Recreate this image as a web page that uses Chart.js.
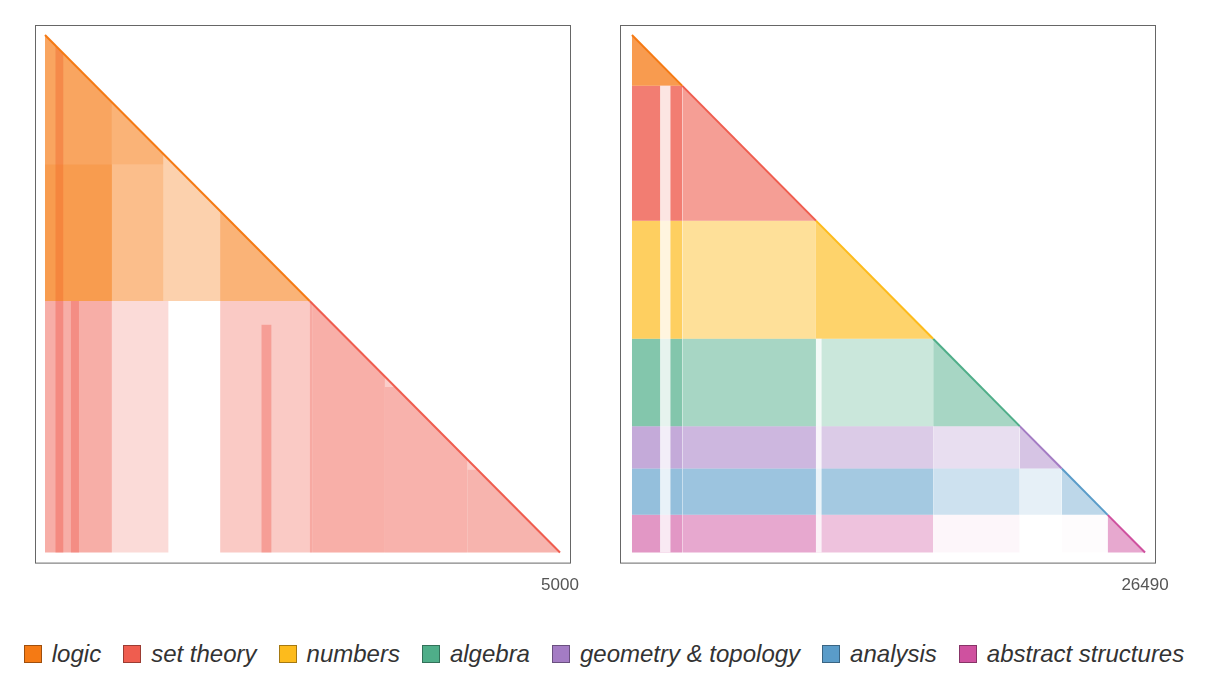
<!DOCTYPE html>
<html>
<head>
<meta charset="utf-8">
<script src="https://cdn.jsdelivr.net/npm/chart.js@4"></script>
<style>
body { margin: 0; width: 1208px; height: 680px; background: #fff; position: relative; overflow: hidden; }
.box { position: absolute; top: 0; width: 600px; height: 600px; }
#legend { position: absolute; top: 640px; left: 0; width: 1208px; text-align: center; white-space: nowrap;
  font: italic 24px "Liberation Sans", Arial, sans-serif; color: #333; }
#legend span.sw { display: inline-block; width: 16px; height: 16px; border: 1px solid rgba(0,0,0,.35); margin: 0 10px 0 22px; vertical-align: -1px; }
#legend span.sw:first-child { margin-left: 0; }
</style>
</head>
<body>
<div class="box" style="left:0"><canvas id="c1"></canvas></div>
<div class="box" style="left:585px"><canvas id="c2"></canvas></div>
<div id="legend"></div>
<script>
const COLORS = {
    logic: '#f57a14', set: '#ef5d4f', numbers: '#fdbb1c', algebra: '#4fae89',
    geometry: '#a47cc4', analysis: '#5a9cc9', abstract: '#cf519f'
};
const LABELS = [['logic','logic'],['set','set theory'],['numbers','numbers'],['algebra','algebra'],
    ['geometry','geometry & topology'],['analysis','analysis'],['abstract','abstract structures']];

// left panel: [x0, x1, y0, y1, category, alpha]
const LEFT_N = 5000;
const LEFT_BLOCKS = [
    [0, 650, 0, 2570, 'logic', 0.5],
    [650, 1150, 350, 1250, 'logic', 0.35],
    [0, 1150, 1250, 2570, 'logic', 0.22],
    [1700, 2600, 1650, 2570, 'logic', 0.35],
    [0, 650, 2570, 5000, 'set', 0.5],
    [650, 1200, 2570, 5000, 'set', 0.22],
    [1700, 2600, 2570, 5000, 'set', 0.33],
    [2600, 3300, 2570, 5000, 'set', 0.28],
    [3300, 4100, 3400, 5000, 'set', 0.25],
    [4100, 5000, 4200, 5000, 'set', 0.22],
    [100, 180, 0, 5000, 'set', 0.45],
    [250, 330, 2570, 5000, 'set', 0.4],
    [2100, 2200, 2800, 5000, 'set', 0.4]
];
const LEFT_DIAG = [[0, 2570, 'logic', 0.35], [2570, 5000, 'set', 0.3]];

// right panel categories split along both axes
const RIGHT_N = 26490;
const BOUNDS = [0, 2600, 9500, 15550, 20020, 22190, 24560, 26490];
const CATS = ['logic','set','numbers','algebra','geometry','analysis','abstract'];
// density[row][col], last = diagonal block
const DENSITY = [
    [0.75],
    [0.8, 0.6],
    [0.7, 0.45, 0.65],
    [0.7, 0.5, 0.3, 0.5],
    [0.65, 0.55, 0.4, 0.25, 0.45],
    [0.65, 0.6, 0.55, 0.3, 0.15, 0.4],
    [0.6, 0.5, 0.35, 0.05, 0.0, 0.02, 0.5]
];
const RIGHT_GAPS = [[1450, 2000, 2600, 26490], [9500, 9800, 15550, 26490]];

function rgba (hex, a)
{
    let n = parseInt(hex.slice(1), 16);
    return 'rgba(' + (n >> 16) + ',' + ((n >> 8) & 255) + ',' + (n & 255) + ',' + a + ')';
}

function rect (x0, x1, y0, y1, color, order)
{
    return { data: [{x: x0, y: y0}, {x: x1, y: y0}], fill: {value: y1}, backgroundColor: color,
             borderWidth: 0, pointRadius: 0, order: order };
}

function tri (a, b, color, order)
{
    return { data: [{x: a, y: a}, {x: b, y: b}], fill: {value: b}, backgroundColor: color,
             borderWidth: 0, pointRadius: 0, order: order };
}

const frame = {
    id: 'frame',
    afterDraw (chart)
    {
        let a = chart.chartArea, ctx = chart.ctx;
        ctx.save();
        ctx.strokeStyle = '#666';
        ctx.lineWidth = 1;
        ctx.strokeRect(a.left + 0.5, a.top + 0.5, a.width - 1, a.height - 1);
        ctx.restore();
    }
};

function makeChart (id, N, datasets, lead, trail)
{
    let lo = -lead / 515 * N, hi = N + trail / 515 * N;
    let ylo = -10 / 515 * N, yhi = N + 11 / 515 * N;
    // white mask above the diagonal
    datasets.push({ data: [{x: lo, y: lo}, {x: hi, y: hi}], fill: {value: ylo}, backgroundColor: '#fff',
                    borderWidth: 0, pointRadius: 0, order: 1 });
    return new Chart(document.getElementById(id), {
        type: 'line',
        data: { datasets: datasets },
        options: {
            animation: false, responsive: false, devicePixelRatio: 1,
            layout: { padding: { left: 35, top: 25, right: 29, bottom: 0 } },
            plugins: { legend: { display: false }, tooltip: { enabled: false } },
            scales: {
                x: { type: 'linear', min: lo, max: hi, grid: { display: false }, border: { display: false },
                     afterBuildTicks: ax => { ax.ticks = [{value: N}]; },
                     ticks: { color: '#555', font: { size: 17, family: 'Liberation Sans' }, padding: 4,
                              maxRotation: 0, callback: v => String(v) } },
                y: { type: 'linear', reverse: true, min: ylo, max: yhi, display: false }
            }
        },
        plugins: [frame]
    });
}

document.getElementById('c1').width = 600; document.getElementById('c1').height = 600;
document.getElementById('c2').width = 600; document.getElementById('c2').height = 600;

let left = [];
LEFT_BLOCKS.forEach(b => left.push(rect(b[0], b[1], b[2], b[3], rgba(COLORS[b[4]], b[5]), 3)));
LEFT_DIAG.forEach(d => left.push(tri(d[0], d[1], rgba(COLORS[d[2]], d[3]), 3)));
left.push({ data: [{x: 0, y: 0}, {x: 2570, y: 2570}], borderColor: COLORS.logic, borderWidth: 2, pointRadius: 0, fill: false, order: 0 });
left.push({ data: [{x: 2570, y: 2570}, {x: 5000, y: 5000}], borderColor: COLORS.set, borderWidth: 2, pointRadius: 0, fill: false, order: 0 });
makeChart('c1', LEFT_N, left, 10, 11);

let right = [];
for (let r = 0; r < CATS.length; r++)
{
    let col = COLORS[CATS[r]];
    for (let c = 0; c < r; c++)
        if (DENSITY[r][c] > 0)
            right.push(rect(BOUNDS[c], BOUNDS[c + 1], BOUNDS[r], BOUNDS[r + 1], rgba(col, DENSITY[r][c]), 3));
    right.push(tri(BOUNDS[r], BOUNDS[r + 1], rgba(col, DENSITY[r][r]), 3));
    right.push({ data: [{x: BOUNDS[r], y: BOUNDS[r]}, {x: BOUNDS[r + 1], y: BOUNDS[r + 1]}], borderColor: col,
                 borderWidth: 2, pointRadius: 0, fill: false, order: 0 });
}
RIGHT_GAPS.forEach(g => right.push(rect(g[0], g[1], g[2], g[3], 'rgba(255,255,255,0.8)', 2)));
makeChart('c2', RIGHT_N, right, 12, 11);

let lg = document.getElementById('legend');
LABELS.forEach(l => {
    lg.innerHTML += '<span class="sw" style="background:' + COLORS[l[0]] + '"></span>' + l[1];
});
</script>
</body>
</html>
